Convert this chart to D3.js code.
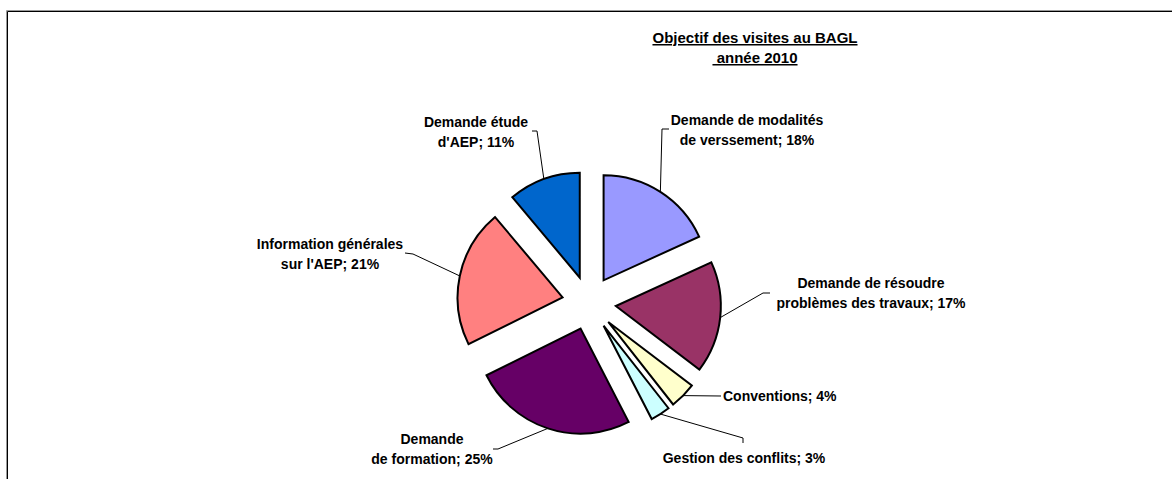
<!DOCTYPE html>
<html>
<head>
<meta charset="utf-8">
<script src="https://cdn.jsdelivr.net/npm/d3@7"></script>
<style>
  body { margin: 0; background: #fff; }
  svg text { font-family: "Liberation Sans", Arial, sans-serif; font-weight: bold; fill: #000; }
</style>
</head>
<body>
<div id="chart"></div>
<script>
// Data (clockwise from 12 o'clock)
const categories = [
  ["Demande de modalités", "de verssement; 18%"],
  ["Demande de résoudre", "problèmes des travaux; 17%"],
  ["Conventions; 4%"],
  ["Gestion des conflits; 3%"],
  ["Demande", "de formation; 25%"],
  ["Information générales", "sur l'AEP; 21%"],
  ["Demande étude", "d'AEP; 11%"],
];
const values = [18, 17, 4, 3, 25, 21, 11];
const sliceColors = ["#9999FF", "#993366", "#FFFFCC", "#CCFFFF", "#660066", "#FF8080", "#0066CC"];
const titleLines = ["Objectif des visites au BAGL", "\u00a0année 2010"];

// Label placement (x, y of first line middle, anchor, leader end points near label)
const labelLayout = [
  { x: 747, y: 120, anchor: "middle", leader: [[662, 129], [669, 129]] },
  { x: 871, y: 283, anchor: "middle", leader: [[763, 293], [770, 293]] },
  { x: 723, y: 396, anchor: "start", leader: [[721, 396]] },
  { x: 744, y: 458, anchor: "middle", leader: [[743, 438], [743, 443]] },
  { x: 432, y: 439, anchor: "middle", leader: [[498, 449], [493, 449]] },
  { x: 330, y: 244, anchor: "middle", leader: [[413, 254], [405, 253]] },
  { x: 476, y: 122, anchor: "middle", leader: [[537, 131], [532, 131]] },
];

const width = 1172, height = 479;
const cx = 589, cy = 303, radius = 105, explode = 27;
const lineGap = 20;

const svg = d3.select("#chart").append("svg")
  .attr("width", width)
  .attr("height", height);

// Chart frame (cropped at right and bottom)
svg.append("path")
  .attr("d", `M6.5,${height} V10.5 H${width}`)
  .attr("fill", "none").attr("stroke", "#999").attr("stroke-width", 1);
svg.append("path")
  .attr("d", `M7.5,${height} V11.5 H${width}`)
  .attr("fill", "none").attr("stroke", "#000").attr("stroke-width", 1);

// Title
const title = svg.append("text")
  .attr("x", 755)
  .attr("text-anchor", "middle")
  .style("font-size", "15px")
  .style("text-decoration", "underline");
titleLines.forEach((t, i) => {
  title.append("tspan").attr("x", 755).attr("y", 43 + i * lineGap).text(t);
});

const pie = d3.pie().sort(null).value((d) => d)(values);
const arc = d3.arc().innerRadius(0).outerRadius(radius);

const g = svg.append("g").attr("transform", `translate(${cx},${cy})`);

const offset = (d) => {
  const mid = (d.startAngle + d.endAngle) / 2;
  return [explode * Math.sin(mid), -explode * Math.cos(mid)];
};

// Slices
g.selectAll(".slice")
  .data(pie)
  .enter()
  .append("path")
  .attr("class", "slice")
  .attr("d", arc)
  .attr("transform", (d) => `translate(${offset(d)})`)
  .attr("fill", (d, i) => sliceColors[i])
  .attr("stroke", "#000")
  .attr("stroke-width", 2)
  .attr("stroke-linejoin", "miter");

// Leader lines from the slice rim midpoint
pie.forEach((d, i) => {
  const mid = (d.startAngle + d.endAngle) / 2;
  const [ox, oy] = offset(d);
  const rim = [cx + ox + radius * Math.sin(mid), cy + oy - radius * Math.cos(mid)];
  const pts = [rim].concat(labelLayout[i].leader);
  svg.append("path")
    .attr("d", d3.line()(pts))
    .attr("fill", "none")
    .attr("stroke", "#000")
    .attr("stroke-width", 1);
});

// Data labels
categories.forEach((lines, i) => {
  const L = labelLayout[i];
  const t = svg.append("text")
    .attr("text-anchor", L.anchor)
    .style("font-size", "14px");
  lines.forEach((s, k) => {
    t.append("tspan")
      .attr("x", L.x)
      .attr("y", L.y + k * lineGap + 5)
      .text(s);
  });
});
</script>
</body>
</html>
